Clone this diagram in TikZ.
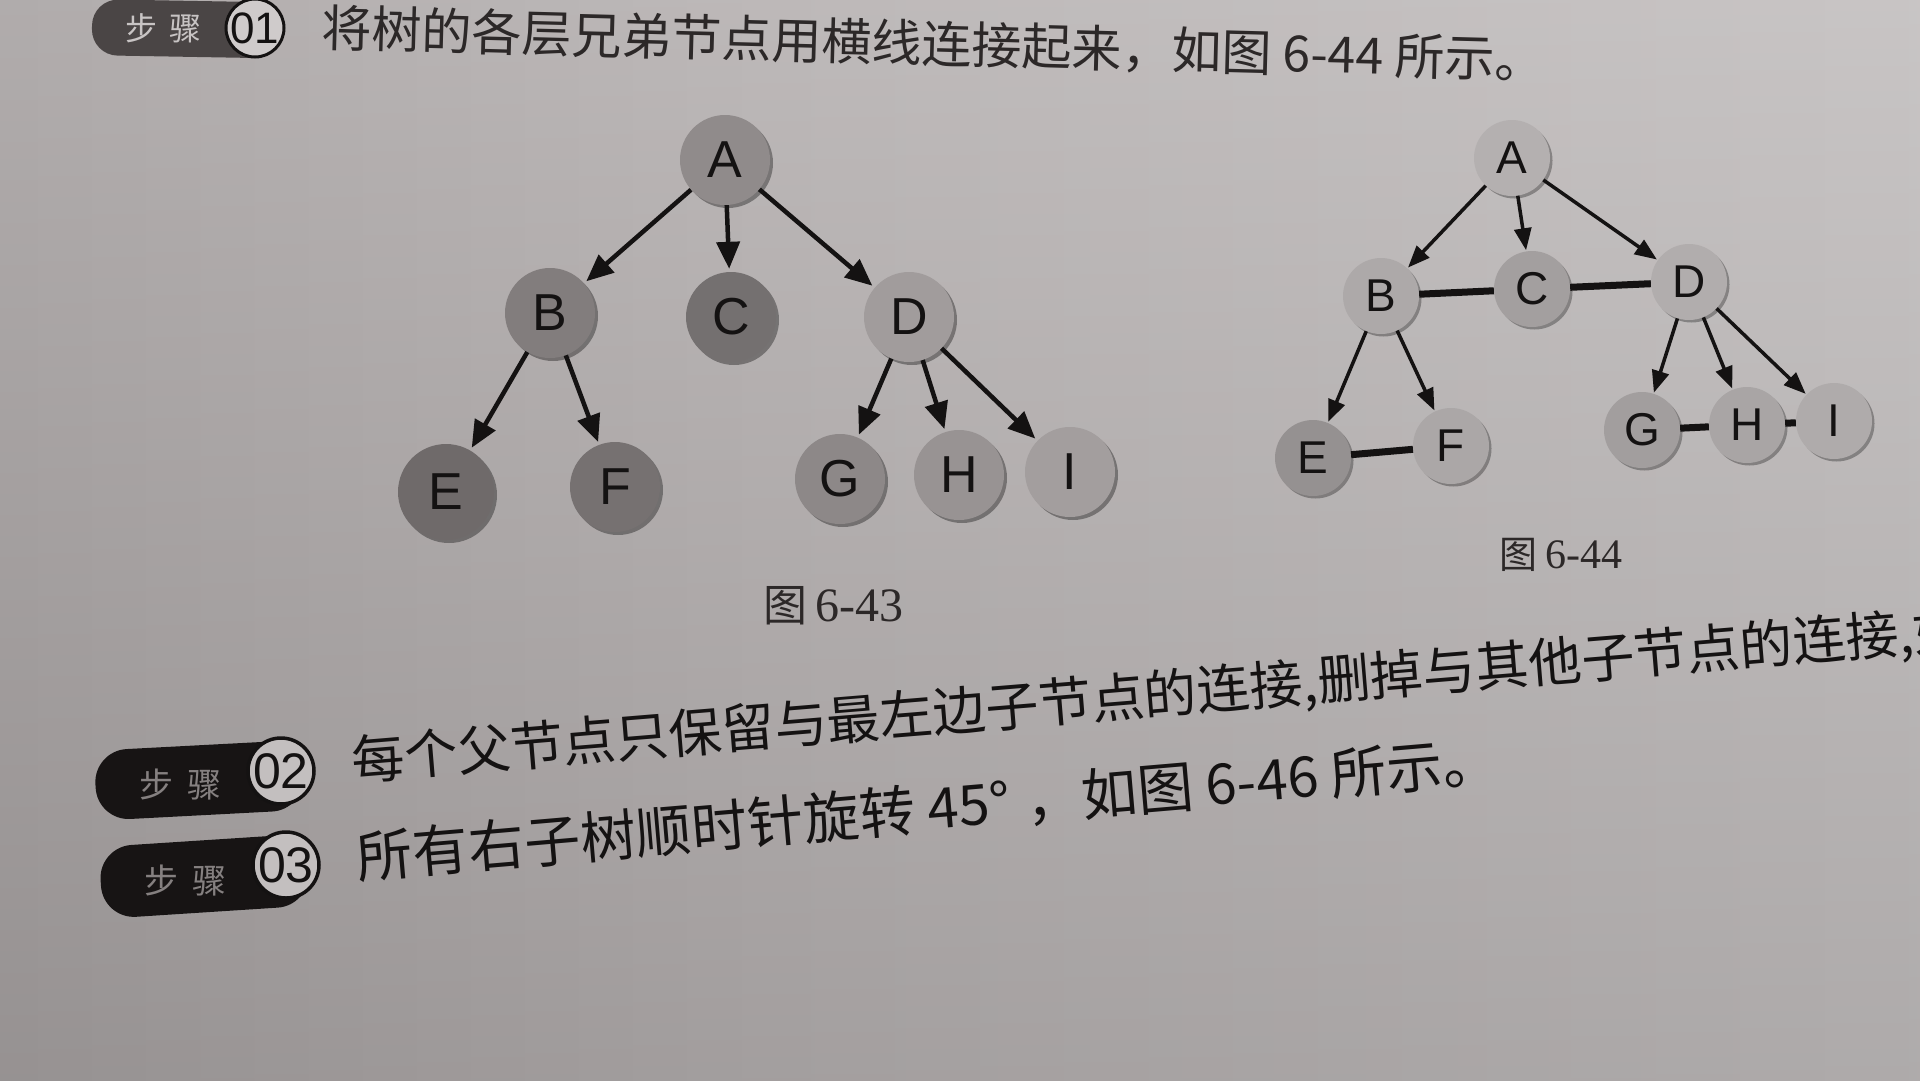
\documentclass[tikz,border=0pt]{standalone}
\usepackage{fontspec}
\setmainfont{Liberation Sans}
\newfontfamily\cjk{Noto Sans CJK SC}
\newfontfamily\serifnum{Liberation Serif}
\usetikzlibrary{arrows.meta,shadows}
\definecolor{bgA}{HTML}{7A7575}
\definecolor{bgB}{HTML}{A09B9B}
\definecolor{bgC}{HTML}{B6B1B1}
\definecolor{bgD}{HTML}{CDCACA}
\pgfdeclarehorizontalshading{paper}{100bp}{color(0bp)=(bgA); color(14bp)=(bgB); color(45bp)=(bgC); color(100bp)=(bgD)}
\definecolor{lA}{HTML}{908B8B}
\definecolor{lB}{HTML}{827D7D}
\definecolor{lC}{HTML}{747070}
\definecolor{lD}{HTML}{A19C9C}
\definecolor{lE}{HTML}{6F6A6A}
\definecolor{lF}{HTML}{767171}
\definecolor{lG}{HTML}{8D8888}
\definecolor{lH}{HTML}{989393}
\definecolor{lI}{HTML}{A39E9E}
\definecolor{rA}{HTML}{B4B0B0}
\definecolor{rB}{HTML}{ADA9A9}
\definecolor{rC}{HTML}{A39F9F}
\definecolor{rD}{HTML}{B1ADAD}
\definecolor{rE}{HTML}{959191}
\definecolor{rF}{HTML}{ABA7A7}
\definecolor{rG}{HTML}{A29E9E}
\definecolor{rH}{HTML}{A9A5A5}
\definecolor{rI}{HTML}{AFABAB}
\definecolor{ink}{HTML}{141212}
\definecolor{inkA}{HTML}{2C2828}
\definecolor{pillA}{HTML}{4A4545}
\definecolor{pillB}{HTML}{171414}
\definecolor{discA}{HTML}{CFCBCB}
\definecolor{discB}{HTML}{C3BFBF}
\definecolor{stepA}{HTML}{C8C4C4}
\definecolor{stepB}{HTML}{858080}
\begin{document}
\begin{tikzpicture}[x=1pt,y=-1pt,
  lnode/.style={circle, inner sep=0pt, minimum size=90pt, text=ink,
    font=\fontsize{52}{52}\selectfont,
    drop shadow={shadow xshift=3pt, shadow yshift=-3pt, opacity=0.35, fill=black}},
  rnode/.style={circle, inner sep=0pt, minimum size=76pt, text=ink,
    font=\fontsize{46}{46}\selectfont,
    drop shadow={shadow xshift=2.5pt, shadow yshift=-2.5pt, opacity=0.3, fill=black}},
  larrow/.style={draw=ink, line width=4.5pt, -{Triangle[length=27pt,width=23pt]}, shorten >=3pt},
  rarrow/.style={draw=ink, line width=3.5pt, -{Triangle[length=22pt,width=17pt]}, shorten >=1pt},
  hlink/.style={draw=ink, line width=7pt},
  textline/.style={anchor=west, inner sep=0pt, text=ink},
  caption/.style={inner sep=0pt, text=inkA, font=\fontsize{44}{44}\selectfont},
  pillshape/.style={rounded corners=33pt},
]
\useasboundingbox (0,0) rectangle (1920,1080);
\shade[shading=paper] (0,0) rectangle (1920,1080);
\shade[top color=white, bottom color=black, opacity=0.10] (0,0) rectangle (1920,1080);

% ---------- step badges ----------
\begin{scope}[shift={(255,28)}, rotate=-1]
  \fill[pillA, rounded corners=26pt] (-163,-26) rectangle (20,30);
  \node[text=stepA, font=\cjk\fontsize{32}{32}\selectfont, inner sep=0pt] (s1t) at (-91,2) {步\hspace{12pt}骤};
  \node[circle, minimum size=56pt, inner sep=0pt, fill=discA, draw=ink, line width=3pt,
        font=\fontsize{44}{44}\selectfont, text=ink] (s1) at (0,0) {01};
\end{scope}
\begin{scope}[shift={(281,771)}, rotate=3]
  \fill[pillB, pillshape] (-186,-30) rectangle (22,40);
  \node[text=stepB, font=\cjk\fontsize{34}{34}\selectfont, inner sep=0pt] (s2t) at (-101,8) {步\hspace{14pt}骤};
  \node[circle, minimum size=66pt, inner sep=0pt, fill=discB, draw=ink, line width=3.5pt,
        font=\fontsize{50}{50}\selectfont, text=ink] (s2) at (0,0) {02};
\end{scope}
\begin{scope}[shift={(286,865)}, rotate=3.7]
  \fill[pillB, pillshape] (-186,-30) rectangle (22,42);
  \node[text=stepB, font=\cjk\fontsize{34}{34}\selectfont, inner sep=0pt] (s3t) at (-101,9) {步\hspace{14pt}骤};
  \node[circle, minimum size=66pt, inner sep=0pt, fill=discB, draw=ink, line width=3.5pt,
        font=\fontsize{50}{50}\selectfont, text=ink] (s3) at (0,0) {03};
\end{scope}

% ---------- text lines ----------
\node[textline, text=inkA, rotate=-1.5, font=\cjk\fontsize{50}{50}\selectfont] (t1) at (322,28)
  {将树的各层兄弟节点用横线连接起来，如图 6-44 所示。};
\node[textline, rotate=4.7, font=\cjk\fontsize{53}{53}\selectfont] (t2) at (352,763)
  {每个父节点只保留与最左边子节点的连接,删掉与其他子节点的连接,如};
\node[textline, rotate=4.9, font=\cjk\fontsize{56}{56}\selectfont] (t3) at (357,858)
  {所有右子树顺时针旋转 45°\hspace{16pt}，如图 6-46 所示。};

% ---------- figure 6-43 ----------
\node[lnode, fill=lA] (A) at (725,160) {A};
\node[lnode, fill=lB] (B) at (550,313) {B};
\node[lnode, fill=lC] (C) at (731,317) {C};
\node[lnode, fill=lD] (D) at (909,317) {D};
\node[lnode, fill=lE, minimum size=96pt] (E) at (446,492) {E};
\node[lnode, fill=lF] (F) at (615,487) {F};
\node[lnode, fill=lG] (G) at (840,479) {G};
\node[lnode, fill=lH] (H) at (959,475) {H};
\node[lnode, fill=lI] (I) at (1070,472) {I};
\draw[larrow] (A) -- (B);
\draw[larrow] (A) -- (C);
\draw[larrow] (A) -- (D);
\draw[larrow] (B) -- (E);
\draw[larrow] (B) -- (F);
\draw[larrow] (D) -- (G);
\draw[larrow] (D) -- (H);
\draw[larrow] (D) -- (I);
\node[caption] (cap1) at (833,606) {{\cjk 图}\hspace{8pt}{\serifnum\fontsize{48}{48}\selectfont 6-43}};

% ---------- figure 6-44 ----------
\node[rnode, fill=rA] (rA) at (1512,158) {A};
\node[rnode, fill=rB] (rB) at (1381,296) {B};
\node[rnode, fill=rC] (rC) at (1532,289) {C};
\node[rnode, fill=rD] (rD) at (1689,282) {D};
\node[rnode, fill=rE] (rE) at (1313,458) {E};
\node[rnode, fill=rF] (rF) at (1451,446) {F};
\node[rnode, fill=rG] (rG) at (1642,430) {G};
\node[rnode, fill=rH] (rH) at (1747,425) {H};
\node[rnode, fill=rI] (rI) at (1834,421) {I};
\draw[rarrow] (rA) -- (rB);
\draw[rarrow] (rA) -- (rC);
\draw[rarrow] (rA) -- (rD);
\draw[rarrow] (rB) -- (rE);
\draw[rarrow] (rB) -- (rF);
\draw[rarrow] (rD) -- (rG);
\draw[rarrow] (rD) -- (rH);
\draw[rarrow] (rD) -- (rI);
\draw[hlink] (rB) -- (rC);
\draw[hlink] (rC) -- (rD);
\draw[hlink] (rE) -- (rF);
\draw[hlink] (rG) -- (rH);
\draw[hlink] (rH) -- (rI);
\node[caption, font=\fontsize{38}{38}\selectfont] (cap2) at (1561,555) {{\cjk 图}\hspace{8pt}{\serifnum\fontsize{42}{42}\selectfont 6-44}};
\end{tikzpicture}
\end{document}
